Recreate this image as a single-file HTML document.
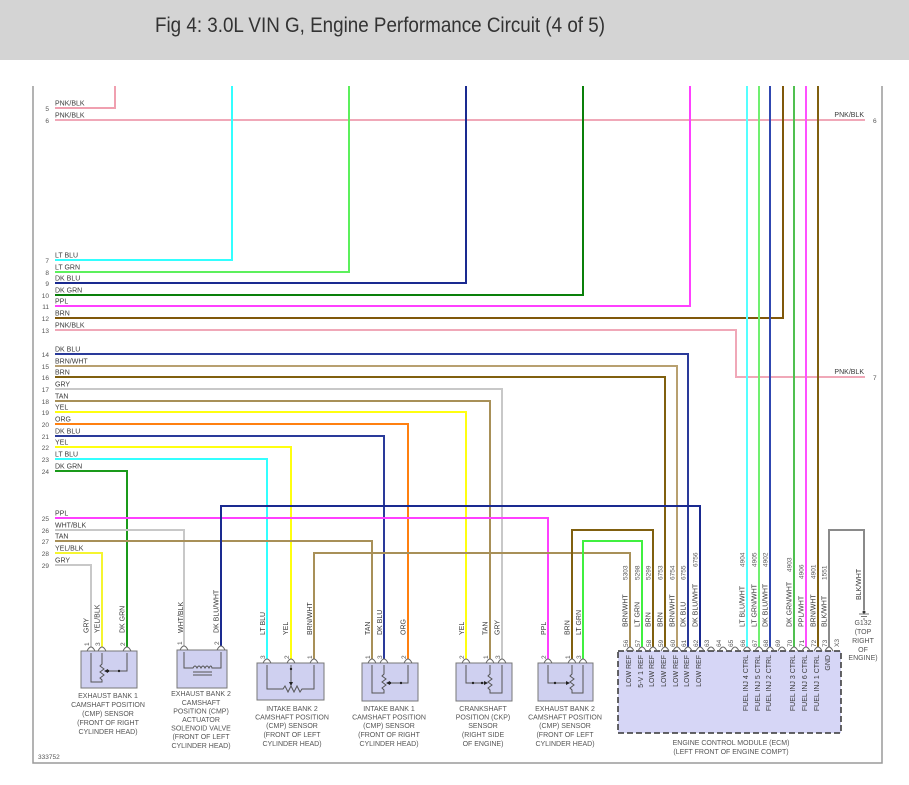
<!DOCTYPE html>
<html><head><meta charset="utf-8"><style>
html,body{margin:0;padding:0;background:#fff;}
svg{display:block;}
text{font-family:"Liberation Sans",Arial,sans-serif;}
.l{font-size:7px;fill:#3a3a3a;}
.n{font-size:6.5px;fill:#555;}
.s{font-size:7px;fill:#555;text-anchor:middle;}
.w{fill:none;stroke-width:2;stroke-linejoin:miter;}
.i{fill:none;stroke:#555;stroke-width:1;}
.pa{fill:none;stroke:#666;stroke-width:0.9;}
</style></head><body>
<svg width="909" height="785" viewBox="0 0 909 785" xmlns="http://www.w3.org/2000/svg">
<rect x="0" y="0" width="909" height="785" fill="#fff"/>
<rect x="0" y="0" width="909" height="60" fill="#d4d4d4"/>
<text x="155" y="32" font-size="21" fill="#333" textLength="450" lengthAdjust="spacingAndGlyphs">Fig 4: 3.0L VIN G, Engine Performance Circuit (4 of 5)</text>

<!-- frame -->
<path d="M33,86 V763 H882 V86" fill="none" stroke="#9a9a9a" stroke-width="1.5"/>
<text x="38" y="759" class="n">333752</text>

<!-- wires -->
<g class="w">
<path d="M55,108 H115 V86" stroke="#f0a0b0"/>
<path d="M55,120 H865" stroke="#f0a8b8"/>
<path d="M55,260 H232 V86" stroke="#33ffff"/>
<path d="M55,272 H349 V86" stroke="#5cf05c"/>
<path d="M55,283 H466 V86" stroke="#1a2a90"/>
<path d="M55,295 H583 V86" stroke="#0a800a"/>
<path d="M55,306 H690 V86" stroke="#ff40ff"/>
<path d="M55,318 H783 V86" stroke="#80580a"/>
<path d="M55,330 H736 V377 H865" stroke="#f0a8b8"/>
<path d="M55,354 H688 V647" stroke="#2a3a9a"/>
<path d="M55,366 H677 V647" stroke="#b8a070"/>
<path d="M55,377 H665 V647" stroke="#80600f"/>
<path d="M55,389 H502 V659" stroke="#c8c8c8"/>
<path d="M55,401 H490 V659" stroke="#a89058"/>
<path d="M55,412 H466 V659" stroke="#ffff10"/>
<path d="M55,424 H408 V659" stroke="#ff8010"/>
<path d="M55,436 H384 V659" stroke="#2a3a9a"/>
<path d="M55,447 H291 V659" stroke="#ffff10"/>
<path d="M55,459 H267 V659" stroke="#33ffff"/>
<path d="M55,471 H127 V647" stroke="#1a9a1a"/>
<path d="M55,518 H548 V659" stroke="#ff40ff"/>
<path d="M55,530 H184 V646" stroke="#c8c8c8"/>
<path d="M55,541 H372 V659" stroke="#a89058"/>
<path d="M55,553 H102 V647" stroke="#f5f530"/>
<path d="M55,565 H91 V647" stroke="#c8c8c8"/>
<path d="M221,646 V506 H700 V647" stroke="#1a2a90"/>
<path d="M314,659 V553 H630 V647" stroke="#a89058"/>
<path d="M572,659 V530 H653 V647" stroke="#80600f"/>
<path d="M583,659 V541 H642 V647" stroke="#40f040"/>
<path d="M747,86 V647" stroke="#55ffff"/>
<path d="M759,86 V647" stroke="#70f070"/>
<path d="M770,86 V647" stroke="#3048b0"/>
<path d="M794,86 V647" stroke="#50c050"/>
<path d="M806,86 V647" stroke="#ff50ff"/>
<path d="M818,86 V647" stroke="#80600f"/>
<path d="M829,647 V530 H864 V610" stroke="#8a8a8a"/>
</g>

<!-- left row labels -->
<g class="l">
<text x="55" y="105.5">PNK/BLK</text>
<text x="55" y="117.5">PNK/BLK</text>
<text x="55" y="257.5">LT BLU</text>
<text x="55" y="269.5">LT GRN</text>
<text x="55" y="280.5">DK BLU</text>
<text x="55" y="292.5">DK GRN</text>
<text x="55" y="303.5">PPL</text>
<text x="55" y="315.5">BRN</text>
<text x="55" y="327.5">PNK/BLK</text>
<text x="55" y="351.5">DK BLU</text>
<text x="55" y="363.5">BRN/WHT</text>
<text x="55" y="374.5">BRN</text>
<text x="55" y="386.5">GRY</text>
<text x="55" y="398.5">TAN</text>
<text x="55" y="409.5">YEL</text>
<text x="55" y="421.5">ORG</text>
<text x="55" y="433.5">DK BLU</text>
<text x="55" y="444.5">YEL</text>
<text x="55" y="456.5">LT BLU</text>
<text x="55" y="468.5">DK GRN</text>
<text x="55" y="515.5">PPL</text>
<text x="55" y="527.5">WHT/BLK</text>
<text x="55" y="538.5">TAN</text>
<text x="55" y="550.5">YEL/BLK</text>
<text x="55" y="562.5">GRY</text>
<text x="864" y="117" text-anchor="end">PNK/BLK</text>
<text x="864" y="374" text-anchor="end">PNK/BLK</text>
</g>
<g class="n" text-anchor="end">
<text x="49" y="111">5</text>
<text x="49" y="123">6</text>
<text x="49" y="263">7</text>
<text x="49" y="275">8</text>
<text x="49" y="286">9</text>
<text x="49" y="298">10</text>
<text x="49" y="309">11</text>
<text x="49" y="321">12</text>
<text x="49" y="333">13</text>
<text x="49" y="357">14</text>
<text x="49" y="369">15</text>
<text x="49" y="380">16</text>
<text x="49" y="392">17</text>
<text x="49" y="404">18</text>
<text x="49" y="415">19</text>
<text x="49" y="427">20</text>
<text x="49" y="439">21</text>
<text x="49" y="450">22</text>
<text x="49" y="462">23</text>
<text x="49" y="474">24</text>
<text x="49" y="521">25</text>
<text x="49" y="533">26</text>
<text x="49" y="544">27</text>
<text x="49" y="556">28</text>
<text x="49" y="568">29</text>
</g>
<text x="873" y="123" class="n">6</text>
<text x="873" y="380" class="n">7</text>

<!-- sensor wire labels (rotated) -->
<g class="l">
<text transform="translate(88.5,633) rotate(-90)">GRY</text>
<text transform="translate(99.5,633) rotate(-90)">YEL/BLK</text>
<text transform="translate(124.5,633) rotate(-90)">DK GRN</text>
<text transform="translate(183,633) rotate(-90)">WHT/BLK</text>
<text transform="translate(218.5,633) rotate(-90)">DK BLU/WHT</text>
<text transform="translate(265,635) rotate(-90)">LT BLU</text>
<text transform="translate(288,635) rotate(-90)">YEL</text>
<text transform="translate(312,635) rotate(-90)">BRN/WHT</text>
<text transform="translate(370,635) rotate(-90)">TAN</text>
<text transform="translate(382,635) rotate(-90)">DK BLU</text>
<text transform="translate(405.5,635) rotate(-90)">ORG</text>
<text transform="translate(464,635) rotate(-90)">YEL</text>
<text transform="translate(487.5,635) rotate(-90)">TAN</text>
<text transform="translate(499.5,635) rotate(-90)">GRY</text>
<text transform="translate(546,635) rotate(-90)">PPL</text>
<text transform="translate(569.5,635) rotate(-90)">BRN</text>
<text transform="translate(581,635) rotate(-90)">LT GRN</text>
</g>
<!-- sensor pin numbers -->
<g class="n">
<text transform="translate(89,646) rotate(-90)">1</text>
<text transform="translate(100,646) rotate(-90)">3</text>
<text transform="translate(125,646) rotate(-90)">2</text>
<text transform="translate(182,645) rotate(-90)">1</text>
<text transform="translate(219,645) rotate(-90)">2</text>
<text transform="translate(265,659) rotate(-90)">3</text>
<text transform="translate(289,659) rotate(-90)">2</text>
<text transform="translate(312,659) rotate(-90)">1</text>
<text transform="translate(370,659) rotate(-90)">1</text>
<text transform="translate(382,659) rotate(-90)">3</text>
<text transform="translate(406,659) rotate(-90)">2</text>
<text transform="translate(464,659) rotate(-90)">2</text>
<text transform="translate(488,659) rotate(-90)">1</text>
<text transform="translate(500,659) rotate(-90)">3</text>
<text transform="translate(546,659) rotate(-90)">2</text>
<text transform="translate(570,659) rotate(-90)">1</text>
<text transform="translate(581,659) rotate(-90)">3</text>
</g>

<!-- sensor boxes -->
<g fill="#cfd0f0" stroke="#777" stroke-width="1">
<rect x="81" y="651" width="56" height="37"/>
<rect x="177" y="650" width="50" height="38"/>
<rect x="257" y="663" width="67" height="37"/>
<rect x="362" y="663" width="56" height="38"/>
<rect x="456" y="663" width="56" height="38"/>
<rect x="538" y="663" width="55" height="38"/>
</g>
<!-- pin arcs -->
<g class="pa">
<path d="M87,651 Q91,643 95,651 M98,651 Q102,643 106,651 M123,651 Q127,643 131,651"/>
<path d="M180,650 Q184,642 188,650 M217,650 Q221,642 225,650"/>
<path d="M263,663 Q267,655 271,663 M287,663 Q291,655 295,663 M310,663 Q314,655 318,663"/>
<path d="M368,663 Q372,655 376,663 M380,663 Q384,655 388,663 M404,663 Q408,655 412,663"/>
<path d="M462,663 Q466,655 470,663 M486,663 Q490,655 494,663 M498,663 Q502,655 506,663"/>
<path d="M544,663 Q548,655 552,663 M568,663 Q572,655 576,663 M579,663 Q583,655 587,663"/>
</g>
<!-- sensor internals -->
<g class="i">
<!-- s1 -->
<path d="M91,653 V682 H102 V680 L100,678 L104,675 L100,672 L104,669 L100,666 L102,664 V653"/>
<path d="M127,653 V671 H107"/>
<!-- s2 -->
<path d="M184,652 V668 H193 q2,-4 4,0 q2,-4 4,0 q2,-4 4,0 q2,-4 4,0 q2,-4 3,0 H221 V652"/>
<path d="M193,672 H212 M193,675 H212"/>
<!-- s3 -->
<path d="M267,665 V689 H283 L285,686 L288,692 L291,686 L294,692 L297,686 L300,692 L302,689 H314 V665"/>
<path d="M291,665 V684"/>
<!-- s4 -->
<path d="M372,665 V693 H384 V690 L382,688 L386,685 L382,682 L386,679 L382,676 L384,674 V665"/>
<path d="M408,665 V683 H389"/>
<!-- s5 -->
<path d="M466,665 V683 H486"/>
<path d="M490,665 V674 L488,676 L492,679 L488,682 L492,685 L488,688 L490,690 V693 H502 V665"/>
<!-- s6 -->
<path d="M548,665 V683 H568"/>
<path d="M572,665 V674 L570,676 L574,679 L570,682 L574,685 L570,688 L572,690 V693 H583 V665"/>
</g>
<g fill="#222">
<path d="M104,671 L108,669 L108,673 Z"/><circle cx="108" cy="671" r="1.2"/><circle cx="119" cy="671" r="1.2"/>
<path d="M291,686 L289,682 L293,682 Z"/><circle cx="291" cy="669" r="1.2"/>
<path d="M386,683 L390,681 L390,685 Z"/><circle cx="390" cy="683" r="1.2"/><circle cx="401" cy="683" r="1.2"/>
<path d="M488,683 L484,681 L484,685 Z"/><circle cx="473" cy="683" r="1.2"/><circle cx="482" cy="683" r="1.2"/>
<path d="M570,683 L566,681 L566,685 Z"/><circle cx="555" cy="683" r="1.2"/>
</g>

<!-- sensor descriptions -->
<g class="s">
<text x="108" y="698">EXHAUST BANK 1</text>
<text x="108" y="707">CAMSHAFT POSITION</text>
<text x="108" y="716">(CMP) SENSOR</text>
<text x="108" y="725">(FRONT OF RIGHT</text>
<text x="108" y="734">CYLINDER HEAD)</text>

<text x="201" y="696">EXHAUST BANK 2</text>
<text x="201" y="705">CAMSHAFT</text>
<text x="201" y="713.5">POSITION (CMP)</text>
<text x="201" y="722">ACTUATOR</text>
<text x="201" y="730.5">SOLENOID VALVE</text>
<text x="201" y="739">(FRONT OF LEFT</text>
<text x="201" y="748">CYLINDER HEAD)</text>

<text x="292" y="711">INTAKE BANK 2</text>
<text x="292" y="719.5">CAMSHAFT POSITION</text>
<text x="292" y="728">(CMP) SENSOR</text>
<text x="292" y="737">(FRONT OF LEFT</text>
<text x="292" y="746">CYLINDER HEAD)</text>

<text x="389" y="711">INTAKE BANK 1</text>
<text x="389" y="719.5">CAMSHAFT POSITION</text>
<text x="389" y="728">(CMP) SENSOR</text>
<text x="389" y="737">(FRONT OF RIGHT</text>
<text x="389" y="746">CYLINDER HEAD)</text>

<text x="483" y="711">CRANKSHAFT</text>
<text x="483" y="719.5">POSITION (CKP)</text>
<text x="483" y="728">SENSOR</text>
<text x="483" y="737">(RIGHT SIDE</text>
<text x="483" y="746">OF ENGINE)</text>

<text x="565" y="711">EXHAUST BANK 2</text>
<text x="565" y="719.5">CAMSHAFT POSITION</text>
<text x="565" y="728">(CMP) SENSOR</text>
<text x="565" y="737">(FRONT OF LEFT</text>
<text x="565" y="746">CYLINDER HEAD)</text>

<text x="731" y="745">ENGINE CONTROL MODULE (ECM)</text>
<text x="731" y="754">(LEFT FRONT OF ENGINE COMPT)</text>

<text x="863" y="625">G132</text>
<text x="863" y="634">(TOP</text>
<text x="863" y="643">RIGHT</text>
<text x="863" y="652">OF</text>
<text x="863" y="660">ENGINE)</text>
</g>

<!-- ground symbol -->
<g stroke="#777" stroke-width="1">
<path d="M859,614 H869 M861,616.5 H867 M863,619 H865"/>
</g>
<circle cx="864" cy="612" r="1.5" fill="#333"/>
<text transform="translate(861,600) rotate(-90)" class="l">BLK/WHT</text>

<!-- ECM -->
<rect x="618" y="651" width="223" height="82" fill="#d6d6f6" stroke="#333" stroke-width="1.5" stroke-dasharray="6,3"/>
<g class="pa">
<path d="M626,651 Q630,643 634,651 M638,651 Q642,643 646,651 M649,651 Q653,643 657,651 M661,651 Q665,643 669,651 M673,651 Q677,643 681,651 M684,651 Q688,643 692,651 M696,651 Q700,643 704,651 M707,651 Q711,643 715,651 M719,651 Q723,643 727,651 M731,651 Q735,643 739,651 M743,651 Q747,643 751,651 M755,651 Q759,643 763,651 M766,651 Q770,643 774,651 M778,651 Q782,643 786,651 M790,651 Q794,643 798,651 M802,651 Q806,643 810,651 M814,651 Q818,643 822,651 M825,651 Q829,643 833,651"/>
</g>
<!-- ECM pin numbers -->
<g class="n">
<text transform="translate(628,647) rotate(-90)">56</text>
<text transform="translate(640,647) rotate(-90)">57</text>
<text transform="translate(651,647) rotate(-90)">58</text>
<text transform="translate(663,647) rotate(-90)">59</text>
<text transform="translate(675,647) rotate(-90)">60</text>
<text transform="translate(686,647) rotate(-90)">61</text>
<text transform="translate(698,647) rotate(-90)">62</text>
<text transform="translate(709,647) rotate(-90)">63</text>
<text transform="translate(721,647) rotate(-90)">64</text>
<text transform="translate(733,647) rotate(-90)">65</text>
<text transform="translate(745,647) rotate(-90)">66</text>
<text transform="translate(757,647) rotate(-90)">67</text>
<text transform="translate(768,647) rotate(-90)">68</text>
<text transform="translate(780,647) rotate(-90)">69</text>
<text transform="translate(792,647) rotate(-90)">70</text>
<text transform="translate(804,647) rotate(-90)">71</text>
<text transform="translate(816,647) rotate(-90)">72</text>
<text transform="translate(827,647) rotate(-90)">73</text>
<text transform="translate(839,647) rotate(-90)">X3</text>
</g>
<!-- ECM wire color labels -->
<g class="l">
<text transform="translate(627.5,627) rotate(-90)">BRN/WHT</text>
<text transform="translate(639.5,627) rotate(-90)">LT GRN</text>
<text transform="translate(650.5,627) rotate(-90)">BRN</text>
<text transform="translate(662.5,627) rotate(-90)">BRN</text>
<text transform="translate(674.5,627) rotate(-90)">BRN/WHT</text>
<text transform="translate(685.5,627) rotate(-90)">DK BLU</text>
<text transform="translate(697.5,627) rotate(-90)">DK BLU/WHT</text>
<text transform="translate(744.5,627) rotate(-90)">LT BLU/WHT</text>
<text transform="translate(756.5,627) rotate(-90)">LT GRN/WHT</text>
<text transform="translate(767.5,627) rotate(-90)">DK BLU/WHT</text>
<text transform="translate(791.5,627) rotate(-90)">DK GRN/WHT</text>
<text transform="translate(803.5,627) rotate(-90)">PPL/WHT</text>
<text transform="translate(815.5,627) rotate(-90)">BRN/WHT</text>
<text transform="translate(826.5,627) rotate(-90)">BLK/WHT</text>
</g>
<!-- ECM wire ids -->
<g class="n">
<text transform="translate(627.5,580) rotate(-90)">5303</text>
<text transform="translate(639.5,580) rotate(-90)">5298</text>
<text transform="translate(650.5,580) rotate(-90)">5299</text>
<text transform="translate(662.5,580) rotate(-90)">6753</text>
<text transform="translate(674.5,580) rotate(-90)">6754</text>
<text transform="translate(685.5,580) rotate(-90)">6755</text>
<text transform="translate(697.5,567) rotate(-90)">6756</text>
<text transform="translate(744.5,567) rotate(-90)">4904</text>
<text transform="translate(756.5,567) rotate(-90)">4905</text>
<text transform="translate(767.5,567) rotate(-90)">4902</text>
<text transform="translate(791.5,572) rotate(-90)">4903</text>
<text transform="translate(803.5,579) rotate(-90)">4906</text>
<text transform="translate(815.5,579) rotate(-90)">4901</text>
<text transform="translate(826.5,580) rotate(-90)">1551</text>
</g>
<!-- ECM internal labels -->
<g class="l" text-anchor="end">
<text transform="translate(631,655) rotate(-90)">LOW REF</text>
<text transform="translate(643,655) rotate(-90)">5-V 1 REF</text>
<text transform="translate(654,655) rotate(-90)">LOW REF</text>
<text transform="translate(666,655) rotate(-90)">LOW REF</text>
<text transform="translate(678,655) rotate(-90)">LOW REF</text>
<text transform="translate(689,655) rotate(-90)">LOW REF</text>
<text transform="translate(701,655) rotate(-90)">LOW REF</text>
<text transform="translate(748,655) rotate(-90)">FUEL INJ 4 CTRL</text>
<text transform="translate(760,655) rotate(-90)">FUEL INJ 5 CTRL</text>
<text transform="translate(771,655) rotate(-90)">FUEL INJ 2 CTRL</text>
<text transform="translate(795,655) rotate(-90)">FUEL INJ 3 CTRL</text>
<text transform="translate(807,655) rotate(-90)">FUEL INJ 6 CTRL</text>
<text transform="translate(819,655) rotate(-90)">FUEL INJ 1 CTRL</text>
<text transform="translate(830,655) rotate(-90)">GND</text>
</g>
</svg>
</body></html>
